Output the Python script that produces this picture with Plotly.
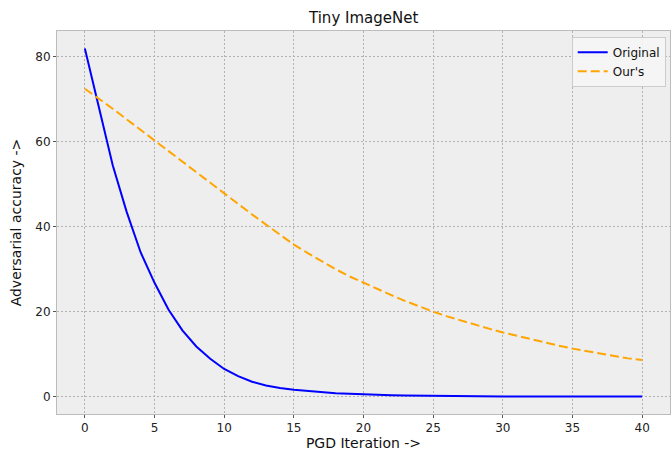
import plotly.graph_objects as go

iterations = list(range(0, 41))
original = [82.0, 68.0, 54.5, 43.5, 34.0, 26.8, 20.5, 15.6, 11.8, 8.9,
            6.5, 4.8, 3.5, 2.6, 2.0, 1.6, 1.3, 1.0, 0.8, 0.65,
            0.5, 0.4, 0.32, 0.25, 0.2, 0.15, 0.12, 0.1, 0.08, 0.06,
            0.05, 0.04, 0.03, 0.03, 0.02, 0.02, 0.02, 0.01, 0.01, 0.01, 0.01]
ours = [72.5, 70.2, 67.8, 65.3, 62.8, 60.3, 57.8, 55.2, 52.7, 50.2,
        47.8, 45.3, 42.9, 40.5, 38.1, 35.8, 33.8, 31.8, 30.0, 28.3,
        26.8, 25.3, 23.9, 22.5, 21.2, 20.0, 18.9, 17.9, 16.9, 16.0,
        15.1, 14.3, 13.5, 12.8, 12.0, 11.3, 10.7, 10.1, 9.5, 9.0, 8.6]
x_ticks = [0, 5, 10, 15, 20, 25, 30, 35, 40]
y_ticks = [0, 20, 40, 60, 80]

font_family = "DejaVu Sans"

fig = go.Figure()
fig.add_trace(go.Scatter(x=iterations, y=original, mode="lines", name="Original",
                         line=dict(color="#0000FF", width=2)))
fig.add_trace(go.Scatter(x=iterations, y=ours, mode="lines", name="Our's",
                         line=dict(color="#FFA500", width=2, dash="9px,4px")))

axis_common = dict(
    showgrid=True, gridcolor="#b2b2b2", gridwidth=1, griddash="2px,2px",
    zeroline=False, showline=True, linecolor="#bcbcbc", linewidth=1, mirror=True,
    ticks="outside", ticklen=3, tickcolor="#555555",
    tickfont=dict(family=font_family, size=12, color="#222222"),
)

fig.update_layout(
    width=671, height=451,
    margin=dict(l=57, r=1, t=31, b=37),
    paper_bgcolor="white", plot_bgcolor="#eeeeee",
    title=dict(text="Tiny ImageNet", x=0.542, xanchor="center", y=0.96, yanchor="middle",
               font=dict(family=font_family, size=15, color="#111111")),
    xaxis=dict(range=[-2, 42], tickvals=x_ticks,
               title=dict(text="PGD Iteration ->", standoff=6,
                          font=dict(family=font_family, size=14, color="#111111")),
               **axis_common),
    yaxis=dict(range=[-4.1, 86.1], tickvals=y_ticks,
               title=dict(text="Adversarial accuracy ->", standoff=10,
                          font=dict(family=font_family, size=14, color="#111111")),
               **axis_common),
    legend=dict(x=0.993, y=0.985, xanchor="right", yanchor="top",
                bgcolor="rgba(245,245,245,0.9)", bordercolor="#cccccc", borderwidth=1,
                tracegroupgap=0, itemwidth=30,
                font=dict(family=font_family, size=12, color="#111111")),
    showlegend=True,
)

fig.write_html("out.html", config={"displayModeBar": False},
               post_script="document.body.style.margin='0';document.body.style.overflow='hidden';")
